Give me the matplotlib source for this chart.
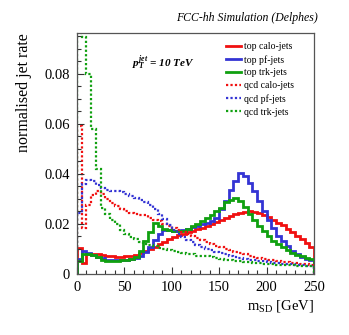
import numpy as np
import matplotlib
matplotlib.use("Agg")
import matplotlib.pyplot as plt
from matplotlib.ticker import MultipleLocator

plt.rcParams['font.family'] = ['Liberation Serif', 'DejaVu Serif']
plt.rcParams['mathtext.fontset'] = 'custom'
plt.rcParams['mathtext.rm'] = 'Liberation Serif'
plt.rcParams['mathtext.it'] = 'Liberation Serif:italic:bold'
plt.rcParams['mathtext.bf'] = 'Liberation Serif:bold'

bin_edges = list(range(0, 255, 5))

top_calo = [0.0105, 0.0044, 0.0078, 0.0078, 0.0078, 0.0076, 0.0072, 0.0070, 0.0068, 0.0068,
            0.0070, 0.0070, 0.0076, 0.0082, 0.0090, 0.0100, 0.0108, 0.0118, 0.0128, 0.0140,
            0.0148, 0.0154, 0.0160, 0.0166, 0.0172, 0.0178, 0.0184, 0.0192, 0.0198, 0.0206,
            0.0214, 0.0222, 0.0230, 0.0238, 0.0244, 0.0248, 0.0250, 0.0246, 0.0242, 0.0236,
            0.0226, 0.0214, 0.0204, 0.0194, 0.0180, 0.0166, 0.0152, 0.0138, 0.0124, 0.0108]

top_pf = [0.0060, 0.0092, 0.0084, 0.0074, 0.0066, 0.0062, 0.0056, 0.0054, 0.0054, 0.0055,
          0.0056, 0.0058, 0.0064, 0.0072, 0.0088, 0.0108, 0.0136, 0.0160, 0.0174, 0.0174,
          0.0172, 0.0170, 0.0174, 0.0180, 0.0186, 0.0192, 0.0198, 0.0204, 0.0212, 0.0224,
          0.0260, 0.0290, 0.0336, 0.0370, 0.0405, 0.0392, 0.0364, 0.0330, 0.0290, 0.0250,
          0.0216, 0.0184, 0.0152, 0.0130, 0.0110, 0.0092, 0.0078, 0.0068, 0.0060, 0.0056]

top_trk = [0.0052, 0.0080, 0.0080, 0.0074, 0.0066, 0.0056, 0.0052, 0.0052, 0.0052, 0.0054,
           0.0056, 0.0060, 0.0068, 0.0090, 0.0130, 0.0168, 0.0204, 0.0190, 0.0180, 0.0176,
           0.0172, 0.0170, 0.0172, 0.0180, 0.0190, 0.0200, 0.0212, 0.0222, 0.0234, 0.0250,
           0.0264, 0.0286, 0.0296, 0.0302, 0.0290, 0.0266, 0.0238, 0.0216, 0.0192, 0.0170,
           0.0150, 0.0132, 0.0118, 0.0106, 0.0094, 0.0084, 0.0076, 0.0070, 0.0064, 0.0060]

qcd_calo = [0.0590, 0.0183, 0.0276, 0.0316, 0.0330, 0.0320, 0.0300, 0.0284, 0.0272, 0.0260,
            0.0250, 0.0242, 0.0238, 0.0236, 0.0234, 0.0222, 0.0216, 0.0210, 0.0200, 0.0190,
            0.0182, 0.0176, 0.0168, 0.0160, 0.0152, 0.0144, 0.0136, 0.0126, 0.0118, 0.0112,
            0.0108, 0.0100, 0.0094, 0.0088, 0.0084, 0.0078, 0.0072, 0.0068, 0.0064, 0.0060,
            0.0056, 0.0054, 0.0050, 0.0048, 0.0046, 0.0044, 0.0042, 0.0040, 0.0038, 0.0036]

qcd_pf = [0.0244, 0.0360, 0.0376, 0.0370, 0.0356, 0.0344, 0.0336, 0.0332, 0.0330, 0.0326,
          0.0320, 0.0312, 0.0304, 0.0296, 0.0286, 0.0274, 0.0260, 0.0240, 0.0220, 0.0196,
          0.0176, 0.0160, 0.0148, 0.0136, 0.0126, 0.0116, 0.0108, 0.0100, 0.0094, 0.0088,
          0.0082, 0.0078, 0.0072, 0.0068, 0.0064, 0.0060, 0.0056, 0.0054, 0.0052, 0.0050,
          0.0047, 0.0045, 0.0043, 0.0041, 0.0040, 0.0038, 0.0036, 0.0034, 0.0032, 0.0030]

qcd_trk = [0.0962, 0.0947, 0.0800, 0.0580, 0.0420, 0.0264, 0.0240, 0.0216, 0.0200, 0.0176,
           0.0160, 0.0148, 0.0140, 0.0128, 0.0120, 0.0114, 0.0110, 0.0104, 0.0098, 0.0094,
           0.0090, 0.0086, 0.0082, 0.0080, 0.0078, 0.0072, 0.0070, 0.0072, 0.0066, 0.0062,
           0.0058, 0.0056, 0.0054, 0.0052, 0.0050, 0.0048, 0.0046, 0.0044, 0.0042, 0.0041,
           0.0040, 0.0038, 0.0037, 0.0036, 0.0035, 0.0034, 0.0033, 0.0032, 0.0031, 0.0030]

labels = ["top calo-jets", "top pf-jets", "top trk-jets",
          "qcd calo-jets", "qcd pf-jets", "qcd trk-jets"]

RED, BLUE, GREEN = '#f01010', '#3434d4', '#10a010'

fig = plt.figure(figsize=(3.49, 3.35), dpi=100)
ax = fig.add_axes([0.2206, 0.1821, 0.6791, 0.7194])

series = [(top_calo, RED, '-'), (top_pf, BLUE, '-'), (top_trk, GREEN, '-'),
          (qcd_calo, RED, ':'), (qcd_pf, BLUE, ':'), (qcd_trk, GREEN, ':')]
handles = []
for (vals, col, ls), lab in zip(series, labels):
    if ls == '-':
        h = ax.stairs(vals, bin_edges, color=col, lw=2.0, label=lab)
    else:
        h = ax.stairs(vals, bin_edges, color=col, lw=1.6, linestyle=(0, (1, 1)), label=lab)
    handles.append(h)

ax.set_xlim(0, 250)
ax.set_ylim(0, 0.0964)
ax.xaxis.set_major_locator(MultipleLocator(50))
ax.xaxis.set_minor_locator(MultipleLocator(10))
ax.yaxis.set_major_locator(MultipleLocator(0.02))
ax.yaxis.set_minor_locator(MultipleLocator(0.005))
ax.yaxis.set_major_formatter(plt.FuncFormatter(lambda v, p: '0' if abs(v) < 1e-9 else f'{v:.2f}'))
ax.tick_params(which='both', direction='in', top=False, right=False, labelsize=10.5, colors='#333333', labelcolor='black')
ax.tick_params(which='major', length=5, width=0.8)
ax.tick_params(which='minor', length=3, width=0.8)
ax.tick_params(axis='x', pad=5)
ax.tick_params(axis='y', pad=5)
for s in ax.spines.values():
    s.set_color('#555555')
    s.set_linewidth(0.9)

ax.set_xlabel(r'm$_{\mathrm{SD}}$ [GeV]', fontsize=10.5, loc='right', labelpad=3)
ax.set_ylabel('normalised jet rate', fontsize=11.5, loc='top', labelpad=9)

fig.text(0.911, 0.928, 'FCC-hh Simulation (Delphes)', ha='right', va='bottom',
         fontsize=8.5, style='italic')
ax.text(0.23, 0.878, r'$p_T^{jet}$ = 10 TeV', transform=ax.transAxes, ha='left', va='center',
        fontsize=8, style='italic', weight='bold')

leg = ax.legend(handles=handles, loc='upper left', bbox_to_anchor=(0.63, 0.963), frameon=False,
                fontsize=7, handlelength=1.5, handletextpad=0.3, labelspacing=0.4,
                borderaxespad=0, borderpad=0)

fig.savefig('out.png', dpi=100)
